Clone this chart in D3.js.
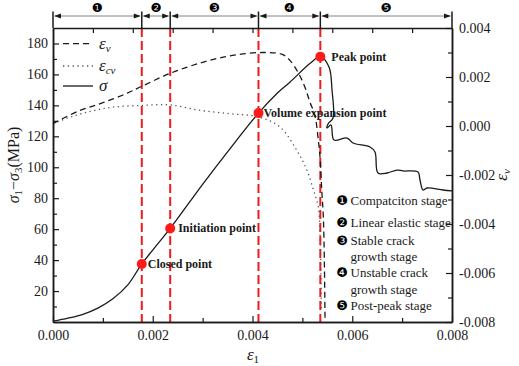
<!DOCTYPE html>
<html><head><meta charset="utf-8">
<script src="https://cdn.jsdelivr.net/npm/d3@7"></script>
</head>
<body style="margin:0;background:#fff"><svg id="c" width="519" height="366"></svg>
<script>
// ---------- data ----------
const stageBounds = [0, 0.00178, 0.00235, 0.00412, 0.00536, 0.008];
const stageMarks = ["\u2776","\u2777","\u2778","\u2779","\u277A"];
const stageNames = [["Compatciton stage"],["Linear elastic stage"],["Stable crack","growth stage"],["Unstable crack","growth stage"],["Post-peak stage"]];

const pointNames = ["Closed point","Initiation point","Volume expansion point","Peak point"];
const pointE1 = [0.00178, 0.00235, 0.00412, 0.00536];
const pointStress = [37.5, 60.5, 135, 171.5];

const stressE1 = [0,0.0003,0.0006,0.0009,0.0012,0.0015,0.00178,0.002,0.00235,0.003,0.0035,0.00412,0.0045,0.00475,0.00515,0.00536,
  0.005534,0.005594,0.005614,0.005514,0.005494,0.005574,0.005634,0.005895,0.006015,0.006356,0.006456,0.006516,0.006697,0.006897,0.007018,0.007318,0.007358,0.007419,0.007499,0.00782,0.008];
const stressVal = [0.5,2.5,5,9,15,24,37.5,46.5,60.5,89,110,135,148,155,167,171.5,
  164.8,149.9,131.8,128,125.4,127.3,117.6,118.9,115.7,113.1,109.9,96.3,96.3,98.2,97.6,96.9,91.8,85.3,86.6,85.3,84.7];

const evE1 = [0,0.0005,0.001,0.0015,0.00178,0.00235,0.003,0.0036,0.0042,0.0046,0.00475,0.00491,0.00505,0.00515,0.00525,0.00532,0.005354,0.005388,0.00542,0.00544,0.005454];
const evVal = [0.0001,0.0006,0.00095,0.00135,0.00162,0.00215,0.0026,0.00288,0.003,0.00292,0.00268,0.0022,0.00159,0.00098,0.00044,-0.00058,-0.00127,-0.0026,-0.0037,-0.0054,-0.0079];

const ecvE1 = [0,0.0004,0.0008,0.0012,0.00178,0.00235,0.00295,0.00355,0.00412,0.00455,0.00489,0.00509,0.00522,0.00532,0.005354,0.00538];
const ecvVal = [0.0001,0.0004,0.00062,0.00077,0.00084,0.00086,0.00064,0.0005,0.00037,-0.00004,-0.001,-0.0018,-0.0026,-0.0033,-0.0044,-0.0075];

const xTicks = [0,0.002,0.004,0.006,0.008];
const yLeftTicks = [20,40,60,80,100,120,140,160,180];
const yRightTicks = [-0.008,-0.006,-0.004,-0.002,0,0.002,0.004];

// ---------- layout ----------
const SERIF = "Liberation Serif";
const DG = "DejaVu Sans";
const L=53, R=452, T=28, B=322;
const svg = d3.select("#c");
const x = d3.scaleLinear().domain([0,0.008]).range([L,R]);
const yL = d3.scaleLinear().domain([0,190]).range([B,T]);
const yR = d3.scaleLinear().domain([-0.008,0.004]).range([B,T]);
const ink = "#1a1a1a";

// red dashed stage lines
svg.selectAll("line.red").data(stageBounds.slice(1,5)).enter().append("line")
  .attr("x1",d=>x(d)).attr("x2",d=>x(d)).attr("y1",T).attr("y2",B)
  .attr("stroke","#ee1c1c").attr("stroke-width",2).attr("stroke-dasharray","9,4");

// curves
const lineS = d3.line().x(d=>x(d[0])).y(d=>yL(d[1])).curve(d3.curveCatmullRom.alpha(0.5));
const lineR = d3.line().x(d=>x(d[0])).y(d=>yR(d[1])).curve(d3.curveCatmullRom.alpha(0.5));
svg.append("path").datum(ecvE1.map((e,i)=>[e,ecvVal[i]])).attr("d",lineR)
  .attr("fill","none").attr("stroke","#555").attr("stroke-width",1.3).attr("stroke-dasharray","1.3,3.5");
svg.append("path").datum(evE1.map((e,i)=>[e,evVal[i]])).attr("d",lineR)
  .attr("fill","none").attr("stroke",ink).attr("stroke-width",1.3).attr("stroke-dasharray","6,4");
svg.append("path").datum(stressE1.map((e,i)=>[e,stressVal[i]])).attr("d",lineS)
  .attr("fill","none").attr("stroke",ink).attr("stroke-width",1.3);

// points
svg.selectAll("circle.pt").data(pointE1).enter().append("circle")
  .attr("cx",d=>x(d)).attr("cy",(d,i)=>yL(pointStress[i])).attr("r",5).attr("fill","#ff1a1a");
const labOff = [[6,4],[8,4],[5,4],[11,4]];
svg.selectAll("text.pt").data(pointNames).enter().append("text")
  .attr("x",(d,i)=>x(pointE1[i])+labOff[i][0]).attr("y",(d,i)=>yL(pointStress[i])+labOff[i][1])
  .attr("font-size",12).attr("font-weight","bold").attr("fill",ink).text(d=>d);

// axes
function style(g){ g.attr("font-family",null);
  g.selectAll("path.domain").attr("stroke",ink).attr("stroke-width",1.5);
  g.selectAll(".tick line").attr("stroke",ink).attr("stroke-width",1.2);
  g.selectAll("text").attr("font-size",14).attr("fill",ink); }
const fmt = d=> (Math.abs(d)<1e-12? 0 : d).toFixed(3);
svg.append("g").attr("transform",`translate(0,${B})`)
  .call(d3.axisBottom(x).tickValues(xTicks).tickFormat(fmt).tickSizeInner(-6).tickSizeOuter(0).tickPadding(8)).call(style);
svg.append("g").attr("transform",`translate(0,${B})`)
  .call(d3.axisBottom(x).tickValues([0.001,0.003,0.005,0.007]).tickFormat("").tickSizeInner(-4).tickSizeOuter(0)).call(style);
svg.append("g").attr("transform",`translate(${L},0)`)
  .call(d3.axisLeft(yL).tickValues(yLeftTicks).tickSizeInner(-6).tickSizeOuter(0).tickPadding(5)).call(style);
svg.append("g").attr("transform",`translate(${L},0)`)
  .call(d3.axisLeft(yL).tickValues(d3.range(10,180,20)).tickFormat("").tickSizeInner(-4).tickSizeOuter(0)).call(style);
svg.append("g").attr("transform",`translate(${R},0)`)
  .call(d3.axisRight(yR).tickValues(yRightTicks).tickFormat(fmt).tickSizeInner(-6).tickSizeOuter(0).tickPadding(7)).call(style);
svg.append("g").attr("transform",`translate(${R},0)`)
  .call(d3.axisRight(yR).tickValues([-0.007,-0.005,-0.003,-0.001,0.001,0.003]).tickFormat("").tickSizeInner(-4).tickSizeOuter(0)).call(style);
svg.append("g").attr("transform",`translate(0,${T})`)
  .call(d3.axisTop(x).tickValues(d3.range(1,10).map(i=>i*0.0008)).tickFormat("").tickSizeInner(-5).tickSizeOuter(0)).call(style);

// stage band on top
const bandY = 16;
svg.selectAll("line.bv").data(stageBounds).enter().append("line")
  .attr("x1",d=>x(d)).attr("x2",d=>x(d)).attr("y1",11.5).attr("y2",T).attr("stroke",ink).attr("stroke-width",1.5);
const segs = stageBounds.slice(0,5).map((d,i)=>[d,stageBounds[i+1]]);
svg.selectAll("line.ba").data(segs).enter().append("line")
  .attr("x1",d=>x(d[0])+2).attr("x2",d=>x(d[1])-2).attr("y1",bandY).attr("y2",bandY)
  .attr("stroke","#777").attr("stroke-width",0.9);
segs.forEach(s=>{
  const a=x(s[0])+1, b=x(s[1])-1;
  svg.append("path").attr("d",`M${a},${bandY}L${a+7},${bandY-2.6}L${a+7},${bandY+2.6}Z`).attr("fill",ink);
  svg.append("path").attr("d",`M${b},${bandY}L${b-7},${bandY-2.6}L${b-7},${bandY+2.6}Z`).attr("fill",ink);
});
svg.selectAll("text.sm").data(stageMarks).enter().append("text").attr("class","dg")
  .attr("x",(d,i)=>(x(segs[i][0])+x(segs[i][1]))/2).attr("y",12)
  .attr("text-anchor","middle").attr("font-size",12.5).attr("fill","#000").text(d=>d);

// top-left legend
const leg = [["6,4","#1a1a1a",1.3,"v"],["1.3,3.5","#555",1.3,"cv"],[null,"#1a1a1a",1.3,""]];
const legY = [43.7,66,86];
leg.forEach((l,i)=>{
  const ln = svg.append("line").attr("x1",63).attr("x2",93).attr("y1",legY[i]).attr("y2",legY[i])
    .attr("stroke",l[1]).attr("stroke-width",l[2]);
  if(l[0]) ln.attr("stroke-dasharray",l[0]);
  const t = svg.append("text").attr("x",99).attr("y",legY[i]+5).attr("font-size",17).attr("fill",ink).attr("font-style","italic");
  if(i<2){ t.append("tspan").text("\u03B5"); t.append("tspan").attr("font-size",11).attr("dy",3).text(l[3]); }
  else t.text("\u03C3");
});

// stage legend (right)
const rowY = [[200],[222.7],[240,256],[272.7,289],[305]];
stageNames.forEach((names,i)=>{
  svg.append("text").attr("class","dg").attr("x",342).attr("y",rowY[i][0]+4.5).attr("text-anchor","middle")
    .attr("font-size",13).attr("fill","#000").text(stageMarks[i]);
  names.forEach((n,j)=>svg.append("text").attr("x",350.5).attr("y",rowY[i][j]+4.5)
    .attr("font-size",13).attr("fill",ink).text(n));
});

// axis titles
const yt = svg.append("text").attr("transform","translate(19,165) rotate(-90)").attr("text-anchor","middle")
  .attr("font-size",16).attr("fill",ink);
yt.append("tspan").attr("font-style","italic").text("\u03C3");
yt.append("tspan").attr("font-size",11).attr("dy",3).text("1");
yt.append("tspan").attr("dy",-3).text("\u2212");
yt.append("tspan").attr("font-style","italic").text("\u03C3");
yt.append("tspan").attr("font-size",11).attr("dy",3).text("3");
yt.append("tspan").attr("dy",-3).text("(MPa)");

const xt = svg.append("text").attr("x",253).attr("y",360).attr("text-anchor","middle").attr("font-size",17).attr("fill",ink);
xt.append("tspan").attr("font-style","italic").text("\u03B5");
xt.append("tspan").attr("font-size",11).attr("dy",3).text("1");

const rt = svg.append("text").attr("transform","translate(507,175) rotate(-90)").attr("text-anchor","middle").attr("font-size",17).attr("fill",ink);
rt.append("tspan").attr("font-style","italic").text("\u03B5");
rt.append("tspan").attr("font-size",11).attr("font-style","italic").attr("dy",3).text("v");

// fonts (inline, single family)
svg.selectAll("text").attr("font-family",SERIF).style("font-family",SERIF);
svg.selectAll("text.dg").attr("font-family",DG).style("font-family",DG);
</script></body></html>
